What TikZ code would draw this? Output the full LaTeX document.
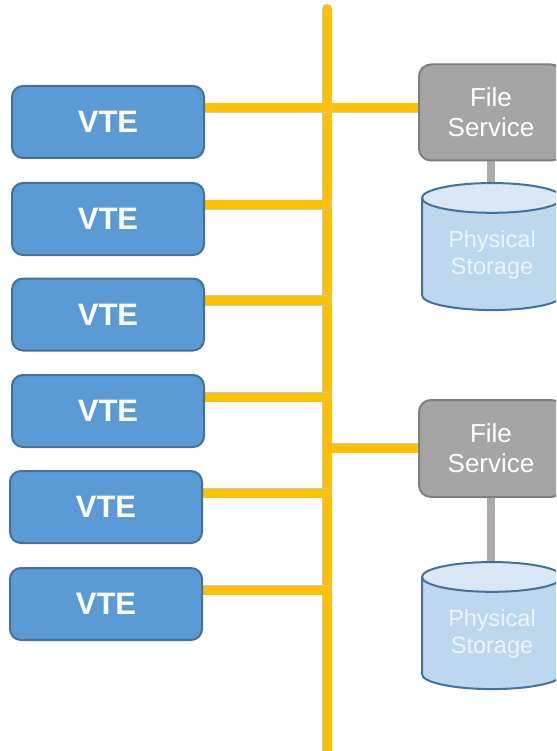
\documentclass[tikz,border=0pt]{standalone}
\usepackage{fontspec}
\setmainfont{Liberation Sans}
\usetikzlibrary{shapes.geometric}
\definecolor{vtefill}{HTML}{5B9BD5}
\definecolor{vteline}{HTML}{41719C}
\definecolor{busy}{HTML}{FFC000}
\definecolor{busout}{HTML}{C8C8C8}
\definecolor{fsfill}{HTML}{A5A5A5}
\definecolor{fsline}{HTML}{7F7F7F}
\definecolor{cylbody}{HTML}{BDD7EE}
\definecolor{cylend}{HTML}{DAE8F6}
\definecolor{cyltext}{HTML}{EEF5FB}
\definecolor{linkc}{HTML}{AEAAAA}
\pgfdeclarelayer{bg}
\pgfsetlayers{bg,main}
\begin{document}
\begin{tikzpicture}[x=1pt,y=-1pt,
  vte/.style={draw=vteline, line width=2pt, fill=vtefill, rounded corners=11pt,
    minimum width=192pt, minimum height=72pt, inner sep=0pt, text=white,
    font=\fontsize{31}{31}\selectfont\bfseries},
  fs/.style={draw=fsline, line width=2pt, fill=fsfill, rounded corners=12pt,
    minimum width=144pt, minimum height=96pt, inner sep=0pt, text=white,
    align=center, font=\fontsize{26}{30}\selectfont},
  stor/.style={cylinder, shape border rotate=90, draw=vteline, line width=2pt,
    cylinder uses custom fill, cylinder body fill=cylbody, cylinder end fill=cylend,
    minimum width=140pt, minimum height=127pt, aspect=0.34, inner sep=0pt,
    text=cyltext, align=center, font=\fontsize{23.5}{27}\selectfont},
  yout/.style={busout, line width=10.5pt},
  yin/.style={busy, line width=9pt},
  linkline/.style={linkc, line width=8pt}]
\useasboundingbox (0,0) rectangle (556,751);
\clip (0,0) rectangle (556,751);

\node[vte] (v1) at (108,122) {VTE};
\node[vte] (v2) at (108,219) {VTE};
\node[vte] (v3) at (108,314.5) {VTE};
\node[vte] (v4) at (108,411) {VTE};
\node[vte] (v5) at (106,507) {VTE};
\node[vte] (v6) at (106,604) {VTE};

\node[fs] (f1) at (491,112.5) {File\\Service};
\node[fs, minimum height=97pt] (f2) at (491,448.5) {File\\Service};

\node[stor] (s1) at (492,254.5) {Physical\\Storage};
\node[stor] (s2) at (492,633.5) {Physical\\Storage};

\coordinate (bt) at (327,9);
\coordinate (bb) at (327,760);

\begin{pgfonlayer}{bg}
  \fill[white] (0,0) rectangle (556,751);
  % file service connectors
  \foreach \f/\dy in {f1/4.5, f2/0.5}{
    \draw[yout] ([yshift=\dy pt]\f.west) -- ([yshift=\dy pt]\f.west -| bt);
    \draw[yin] ([yshift=\dy pt]\f.west) -- ([yshift=\dy pt]\f.west -| bt);
  }
  % bus
  \draw[yout, line cap=round] (bt) -- (bb);
  \draw[yin, line cap=round] (bt) -- (bb);
  % VTE taps
  \foreach \v in {v1,v2,v3,v4,v5,v6}{
    \draw[yout, line cap=round] ([yshift=14pt]\v.east) -- ([yshift=14pt]\v.east -| bt);
    \draw[yin, line cap=round] ([yshift=14pt]\v.east) -- ([yshift=14pt]\v.east -| bt);
  }
  % storage links
  \draw[linkline] (f1.south) -- (f1.south |- s1.north);
  \draw[linkline] (f2.south) -- (f2.south |- s2.north);
\end{pgfonlayer}
\end{tikzpicture}
\end{document}
